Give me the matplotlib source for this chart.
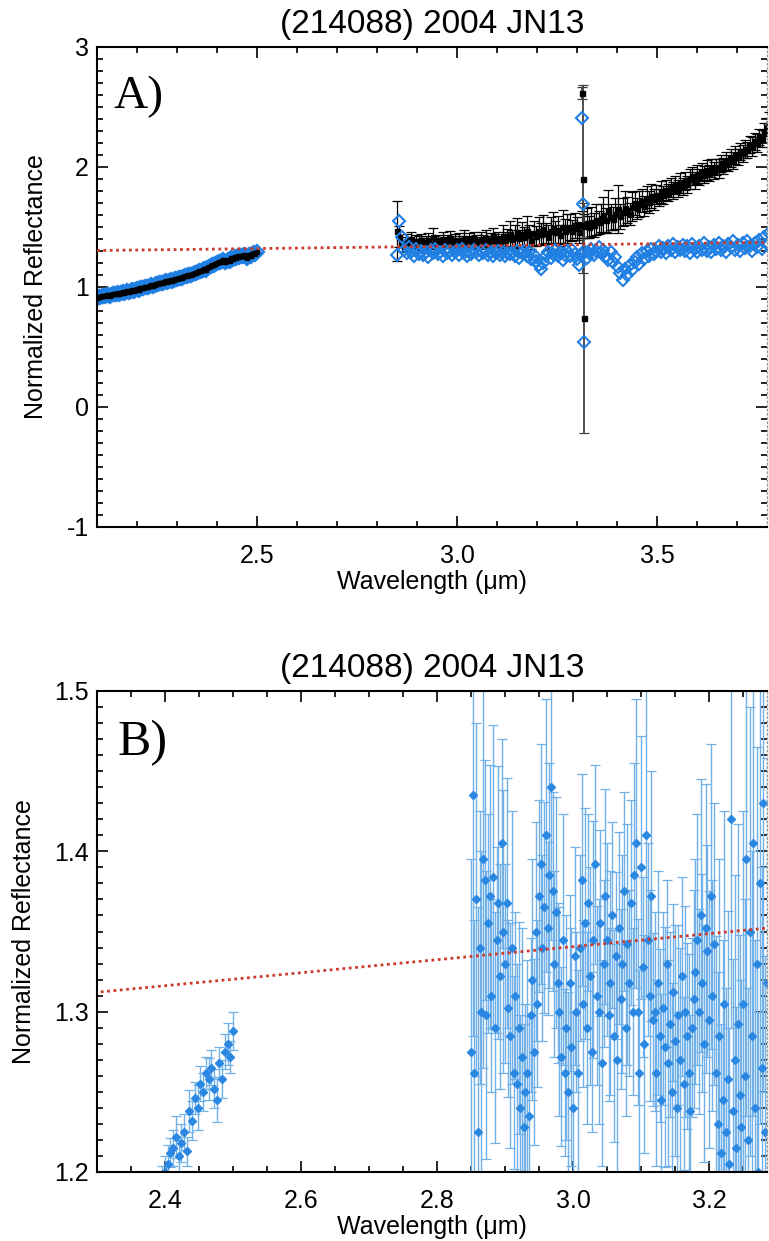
import numpy as np
import matplotlib
matplotlib.use("Agg")
import matplotlib.pyplot as plt
from matplotlib.ticker import MultipleLocator, FormatStrFormatter

plt.rcParams['font.family'] = ['Liberation Sans', 'DejaVu Sans']

# ---------------- data ----------------
title_text = "(214088) 2004 JN13"

# near-infrared segment (same data in both panels)
nir_wave = np.linspace(2.10, 2.50, 101)
nir_refl = [
    0.912, 0.918, 0.915, 0.922, 0.925, 0.921, 0.930, 0.933, 0.929, 0.937,
    0.940, 0.938, 0.945, 0.948, 0.944, 0.952, 0.956, 0.953, 0.960, 0.963,
    0.962, 0.968, 0.972, 0.970, 0.977, 0.982, 0.979, 0.988, 0.992, 0.990,
    0.998, 1.003, 1.001, 1.009, 1.013, 1.010, 1.018, 1.024, 1.021, 1.030,
    1.034, 1.031, 1.040, 1.046, 1.043, 1.051, 1.056, 1.054, 1.062, 1.067,
    1.065, 1.074, 1.079, 1.077, 1.086, 1.091, 1.088, 1.097, 1.103, 1.100,
    1.112, 1.118, 1.116, 1.126, 1.132, 1.130, 1.140, 1.147, 1.144, 1.155,
    1.165, 1.172, 1.180, 1.186, 1.194,
    1.200, 1.205, 1.212, 1.215, 1.222, 1.210, 1.218, 1.225, 1.213, 1.238,
    1.232, 1.246, 1.240, 1.255, 1.250, 1.262, 1.258, 1.265, 1.252, 1.245,
    1.268, 1.258, 1.275, 1.280, 1.272, 1.288]
nir_err = [
    0.009, 0.008, 0.010, 0.009, 0.008, 0.009, 0.010, 0.008, 0.009, 0.010,
    0.008, 0.009, 0.009, 0.010, 0.008, 0.009, 0.008, 0.010, 0.009, 0.008,
    0.010, 0.009, 0.008, 0.009, 0.010, 0.008, 0.009, 0.010, 0.008, 0.009,
    0.009, 0.010, 0.008, 0.009, 0.008, 0.010, 0.009, 0.008, 0.010, 0.009,
    0.008, 0.009, 0.010, 0.008, 0.009, 0.009, 0.010, 0.008, 0.009, 0.010,
    0.010, 0.008, 0.009, 0.010, 0.009, 0.008, 0.009, 0.010, 0.008, 0.009,
    0.009, 0.010, 0.008, 0.009, 0.010, 0.009, 0.008, 0.010, 0.009, 0.008,
    0.009, 0.010, 0.008, 0.009, 0.010,
    0.010, 0.012, 0.009, 0.011, 0.013, 0.010, 0.012, 0.011, 0.009, 0.013,
    0.012, 0.010, 0.014, 0.011, 0.012, 0.010, 0.013, 0.011, 0.012, 0.014,
    0.010, 0.012, 0.011, 0.013, 0.010, 0.012]

# panel A : L-band, thermally corrected (blue) and uncorrected (black)
lband_wave_a = np.linspace(2.85, 3.78, 156)
lband_corr_a = [
    1.270, 1.550, 1.420, 1.310, 1.280, 1.335, 1.290, 1.260, 1.318, 1.275, 1.300, 1.265,
    1.290, 1.250, 1.305, 1.280, 1.320, 1.272, 1.295, 1.258, 1.310, 1.282, 1.300, 1.268,
    1.292, 1.305, 1.270, 1.318, 1.285, 1.262, 1.300, 1.278, 1.312, 1.290, 1.265, 1.298,
    1.280, 1.310, 1.268, 1.295, 1.255, 1.288, 1.302, 1.270, 1.292, 1.262, 1.285, 1.275,
    1.290, 1.260, 1.300, 1.245, 1.280, 1.300, 1.262, 1.290, 1.235, 1.270, 1.220, 1.180,
    1.150, 1.200, 1.255, 1.290, 1.240, 1.275, 1.310, 1.258, 1.290, 1.228, 1.270, 1.300,
    1.260, 1.305, 1.275, 1.230, 1.180, 1.265, 1.300, 1.245, 1.285, 1.320, 1.270, 1.300,
    1.335, 1.280, 1.310, 1.260, 1.225, 1.290, 1.210, 1.250, 1.170, 1.120, 1.060, 1.150,
    1.100, 1.180, 1.140, 1.210, 1.250, 1.190, 1.280, 1.230, 1.300, 1.260, 1.320, 1.275,
    1.300, 1.345, 1.290, 1.325, 1.280, 1.340, 1.305, 1.360, 1.295, 1.330, 1.310, 1.350,
    1.300, 1.340, 1.285, 1.355, 1.320, 1.290, 1.345, 1.310, 1.365, 1.300, 1.335, 1.290,
    1.350, 1.320, 1.370, 1.305, 1.345, 1.290, 1.360, 1.330, 1.380, 1.310, 1.350, 1.300,
    1.365, 1.325, 1.380, 1.340, 1.300, 1.370, 1.335, 1.390, 1.320, 1.420, 1.360, 1.450]
lband_raw_a = [
    1.470, 1.420, 1.360, 1.345, 1.390, 1.370, 1.400, 1.355, 1.380, 1.365, 1.395, 1.350,
    1.375, 1.390, 1.360, 1.420, 1.370, 1.385, 1.355, 1.395, 1.368, 1.380, 1.402, 1.372,
    1.385, 1.360, 1.392, 1.375, 1.410, 1.368, 1.388, 1.372, 1.398, 1.380, 1.365, 1.395,
    1.382, 1.405, 1.375, 1.392, 1.418, 1.385, 1.400, 1.378, 1.425, 1.395, 1.410, 1.440,
    1.398, 1.420, 1.455, 1.405, 1.438, 1.415, 1.470, 1.430, 1.395, 1.448, 1.425, 1.465,
    1.440, 1.480, 1.452, 1.420, 1.470, 1.495, 1.455, 1.478, 1.430, 1.502, 1.468, 1.485,
    1.500, 1.470, 1.515, 1.490, 1.455, 1.520, 1.505, 1.535, 1.498, 1.545, 1.520, 1.560,
    1.540, 1.575, 1.600, 1.555, 1.630, 1.585, 1.570, 1.612, 1.650, 1.590, 1.625, 1.660,
    1.640, 1.610, 1.668, 1.700, 1.655, 1.690, 1.720, 1.675, 1.735, 1.710, 1.760, 1.730,
    1.770, 1.745, 1.790, 1.770, 1.810, 1.785, 1.830, 1.805, 1.850, 1.820, 1.865, 1.840,
    1.880, 1.855, 1.900, 1.925, 1.890, 1.940, 1.915, 1.960, 1.935, 1.975, 1.950, 1.995,
    1.970, 2.000, 1.985, 2.030, 2.010, 2.050, 2.030, 2.075, 2.055, 2.100, 2.085, 2.130,
    2.115, 2.150, 2.140, 2.185, 2.170, 2.215, 2.200, 2.250, 2.240, 2.290, 2.330, 2.370]
lband_err_a = [
    0.250, 0.090, 0.060, 0.050, 0.055, 0.045, 0.060, 0.048, 0.052, 0.058, 0.046, 0.055,
    0.050, 0.062, 0.045, 0.070, 0.052, 0.048, 0.056, 0.060, 0.046, 0.054, 0.065, 0.050,
    0.055, 0.048, 0.060, 0.052, 0.068, 0.046, 0.058, 0.050, 0.064, 0.054, 0.048, 0.060,
    0.052, 0.066, 0.050, 0.058, 0.075, 0.054, 0.062, 0.050, 0.090, 0.060, 0.070, 0.110,
    0.080, 0.095, 0.120, 0.070, 0.100, 0.085, 0.125, 0.090, 0.075, 0.105, 0.080, 0.115,
    0.090, 0.120, 0.085, 0.100, 0.110, 0.130, 0.095, 0.115, 0.090, 0.140, 0.100, 0.120,
    0.110, 0.090, 0.105, 0.095, 0.085, 0.110, 0.100, 0.125, 0.090, 0.120, 0.100, 0.130,
    0.095, 0.120, 0.150, 0.100, 0.180, 0.110, 0.095, 0.130, 0.200, 0.105, 0.120, 0.140,
    0.110, 0.090, 0.120, 0.100, 0.085, 0.110, 0.095, 0.080, 0.105, 0.090, 0.100, 0.085,
    0.080, 0.070, 0.090, 0.075, 0.085, 0.070, 0.080, 0.068, 0.078, 0.072, 0.082, 0.070,
    0.075, 0.068, 0.080, 0.072, 0.070, 0.078, 0.066, 0.074, 0.070, 0.080, 0.068, 0.075,
    0.072, 0.065, 0.078, 0.070, 0.068, 0.075, 0.066, 0.072, 0.070, 0.078, 0.068, 0.074,
    0.070, 0.075, 0.068, 0.072, 0.078, 0.070, 0.074, 0.068, 0.072, 0.080, 0.075, 0.085]

# the noisy channel near 3.31 um
spike_wave = [3.313, 3.315, 3.317]
spike_raw = [2.62, 1.90, 0.74]
spike_raw_err = [0.05, 0.78, 0.96]
spike_corr = [2.41, 1.69, 0.54]

# panel B : L-band thermally corrected, full resolution
lband_wave_b = np.linspace(2.85, 3.285, 175)
lband_corr_b = [
    1.275, 1.435, 1.262, 1.370, 1.225, 1.340, 1.300, 1.395,
    1.382, 1.298, 1.355, 1.372, 1.310, 1.384, 1.290, 1.345, 1.368, 1.322, 1.405, 1.350,
    1.330, 1.368, 1.302, 1.285, 1.340, 1.262, 1.310, 1.255, 1.290, 1.240, 1.272, 1.228,
    1.250, 1.262, 1.235, 1.298, 1.320, 1.275, 1.350, 1.305,
    1.372, 1.392, 1.340, 1.365, 1.410, 1.352, 1.385, 1.440, 1.375, 1.330, 1.362, 1.318,
    1.300, 1.272, 1.345, 1.262, 1.290, 1.250, 1.318, 1.278, 1.240, 1.335, 1.300, 1.262,
    1.340, 1.382, 1.305, 1.355, 1.290, 1.368, 1.322, 1.275, 1.345, 1.392, 1.310, 1.300,
    1.355, 1.268, 1.330, 1.372,
    1.345, 1.298, 1.318, 1.360, 1.285, 1.335, 1.270, 1.352, 1.308, 1.330, 1.375, 1.290,
    1.342, 1.318, 1.368, 1.300,
    1.385, 1.405, 1.300, 1.262, 1.390, 1.328, 1.280, 1.410, 1.345, 1.310, 1.372, 1.295,
    1.300, 1.262, 1.318, 1.285, 1.245, 1.302, 1.278, 1.330, 1.268, 1.292, 1.250, 1.312,
    1.282, 1.240, 1.298, 1.270, 1.322, 1.255, 1.300, 1.285, 1.262, 1.238, 1.290, 1.308,
    1.325, 1.345, 1.300, 1.360, 1.318, 1.280, 1.352, 1.338, 1.295, 1.372, 1.310, 1.342,
    1.262, 1.230, 1.285, 1.212, 1.245, 1.305, 1.225, 1.258, 1.205, 1.420, 1.238, 1.270,
    1.215, 1.292, 1.248, 1.228,
    1.305, 1.260, 1.395, 1.220, 1.350, 1.285, 1.405, 1.240, 1.330, 1.200, 1.380, 1.265,
    1.430, 1.225, 1.318]
lband_err_b = [
    0.120, 0.150, 0.095, 0.110, 0.140, 0.085, 0.100, 0.130,
    0.075, 0.090, 0.068, 0.082, 0.060, 0.095, 0.072, 0.058, 0.085, 0.070, 0.065, 0.088,
    0.062, 0.078, 0.055, 0.070, 0.085, 0.060, 0.052, 0.075, 0.066, 0.058, 0.080, 0.064,
    0.055, 0.070, 0.062, 0.048, 0.075, 0.058, 0.068, 0.052,
    0.060, 0.075, 0.058, 0.066, 0.085, 0.054, 0.070, 0.095, 0.062, 0.058, 0.072, 0.050,
    0.065, 0.056, 0.078, 0.052, 0.070, 0.062, 0.055, 0.074, 0.060, 0.068, 0.050, 0.064,
    0.058, 0.066, 0.052, 0.072, 0.060, 0.055, 0.068, 0.050, 0.074, 0.062, 0.056, 0.070,
    0.058, 0.064, 0.052, 0.067,
    0.060, 0.054, 0.070, 0.058, 0.066, 0.052, 0.072, 0.060, 0.056, 0.068, 0.062, 0.055,
    0.075, 0.058, 0.064, 0.052,
    0.070, 0.090, 0.058, 0.064, 0.082, 0.056, 0.068, 0.100, 0.060, 0.066, 0.078, 0.054,
    0.062, 0.058, 0.070, 0.054, 0.066, 0.060, 0.075, 0.052, 0.064, 0.058, 0.068, 0.055,
    0.072, 0.060, 0.056, 0.070, 0.062, 0.054, 0.066, 0.058, 0.074, 0.060, 0.056, 0.068,
    0.070, 0.078, 0.064, 0.085, 0.068, 0.074, 0.090, 0.066, 0.080, 0.095, 0.072, 0.088,
    0.085, 0.095, 0.110, 0.080, 0.100, 0.120, 0.090, 0.105, 0.085, 0.130, 0.095, 0.115,
    0.088, 0.125, 0.100, 0.092,
    0.120, 0.110, 0.160, 0.095, 0.140, 0.115, 0.170, 0.105, 0.135, 0.100, 0.150, 0.125,
    0.180, 0.110, 0.140]

# continuum (red dotted) fit
cont_wave = [2.10, 3.80]
cont_refl = [1.304, 1.373]

panel_labels = ["A)", "B)"]

# ---------------- styling ----------------
BLUE = '#1f7fe3'
BLUE_B = '#2b88e2'
BLUE_ERR = '#72b0e8'
RED = '#cc3a2c'

W, H = 769, 1241
fig = plt.figure(figsize=(W / 100, H / 100), dpi=100)

axA = fig.add_axes([97 / W, 1 - 527 / H, 670 / W, 480 / H])
axB = fig.add_axes([97 / W, 1 - 1172 / H, 670 / W, 481 / H])


def style_axes(ax, xmaj, xmin, ymaj, ymin):
    ax.xaxis.set_major_locator(MultipleLocator(xmaj))
    ax.xaxis.set_minor_locator(MultipleLocator(xmin))
    ax.yaxis.set_major_locator(MultipleLocator(ymaj))
    ax.yaxis.set_minor_locator(MultipleLocator(ymin))
    ax.tick_params(which='both', direction='in', top=True, right=True,
                   width=1.2, colors='black')
    ax.tick_params(which='major', length=8)
    ax.tick_params(which='minor', length=4.5)
    ax.tick_params(axis='x', which='major', pad=12, labelsize=18)
    ax.tick_params(axis='y', which='major', pad=6, labelsize=18)
    for s in ['left', 'top', 'bottom']:
        ax.spines[s].set_linewidth(1.5)
        ax.spines[s].set_color('black')
    ax.spines['right'].set_linewidth(1.0)
    ax.spines['right'].set_color('0.6')
    ax.spines['right'].set_linestyle((0, (1, 2)))
    ax.set_xlabel("Wavelength (μm)", fontsize=18, labelpad=2)
    ax.set_ylabel("Normalized Reflectance", fontsize=18, labelpad=13)
    ax.set_title(title_text, fontsize=24, pad=10)


# ---------------- panel A ----------------
axA.errorbar(lband_wave_a, lband_raw_a, yerr=lband_err_a, fmt='s', color='black',
             markersize=3.6, ecolor='black', elinewidth=0.9, capsize=3.5, capthick=0.9,
             zorder=2)
axA.errorbar(spike_wave, spike_raw, yerr=spike_raw_err, fmt='s', color='black',
             markersize=3.6, ecolor='0.25', elinewidth=1.3, capsize=3.5, capthick=0.9,
             zorder=2)
axA.plot(lband_wave_a, lband_corr_a, linestyle='none', marker='D', markersize=6.5,
         markerfacecolor='none', markeredgecolor=BLUE, markeredgewidth=1.5, zorder=2.5)
axA.plot(spike_wave, spike_corr, linestyle='none', marker='D', markersize=6.5,
         markerfacecolor='none', markeredgecolor=BLUE, markeredgewidth=1.5, zorder=2.6)
axA.plot(nir_wave, nir_refl, linestyle='none', marker='D', markersize=7,
         markerfacecolor='none', markeredgecolor=BLUE, markeredgewidth=1.6, zorder=2.5)
axA.plot(nir_wave, nir_refl, linestyle='-', color='black', linewidth=2.6,
         marker='s', markersize=2.2, zorder=3)
axA.plot(cont_wave, cont_refl, color=RED, linewidth=2.0,
         linestyle=(0, (1, 1.3)), zorder=4)

axA.set_xlim(2.10, 2.10 + 670 / 400)
axA.set_ylim(-1, 3)
style_axes(axA, 0.5, 0.1, 1.0, 0.1)
axA.xaxis.set_major_formatter(FormatStrFormatter('%.1f'))
axA.yaxis.set_major_formatter(FormatStrFormatter('%d'))
axA.text(0.024, 0.872, panel_labels[0], transform=axA.transAxes,
         fontsize=34, family='Liberation Serif', va='baseline', ha='left')

# ---------------- panel B ----------------
axB.errorbar(nir_wave, nir_refl, yerr=nir_err, fmt='D', color=BLUE_B,
             markersize=3.6, ecolor=BLUE_ERR, elinewidth=1.0, capsize=3.5,
             capthick=0.9, zorder=2)
axB.errorbar(lband_wave_b, lband_corr_b, yerr=lband_err_b, fmt='D', color=BLUE_B,
             markersize=3.6, ecolor=BLUE_ERR, elinewidth=1.0, capsize=3.5,
             capthick=0.9, zorder=2)
axB.plot(cont_wave, cont_refl, color=RED, linewidth=2.0,
         linestyle=(0, (1, 1.3)), zorder=4)

axB.set_xlim(2.30, 2.30 + 670 * 0.2 / 136)
axB.set_ylim(1.2, 1.5)
style_axes(axB, 0.2, 0.05, 0.1, 0.01)
axB.xaxis.set_major_formatter(FormatStrFormatter('%.1f'))
axB.yaxis.set_major_formatter(FormatStrFormatter('%.1f'))
axB.text(0.031, 0.867, panel_labels[1], transform=axB.transAxes,
         fontsize=36, family='Liberation Serif', va='baseline', ha='left')

fig.savefig("out.png", dpi=100)
